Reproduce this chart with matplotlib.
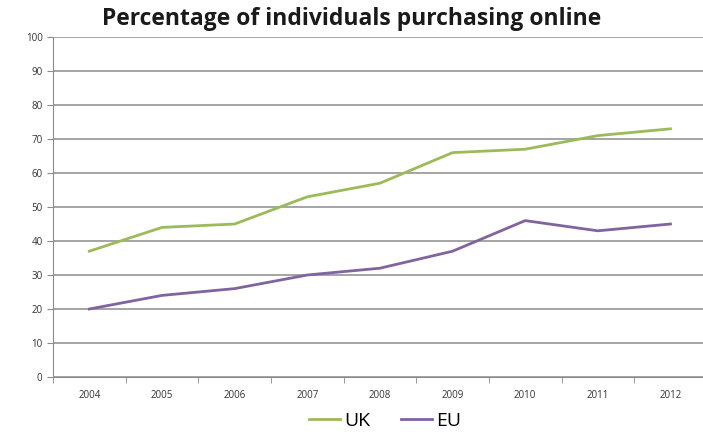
import numpy as np
import matplotlib.pyplot as plt

years = ['2004', '2005', '2006', '2007', '2008', '2009', '2010', '2011', '2012']
uk = [37, 44, 45, 53, 57, 66, 67, 71, 73]
eu = [20, 24, 26, 30, 32, 37, 46, 43, 45]

plt.rcParams['font.family'] = ['Open Sans', 'DejaVu Sans']

fig = plt.figure(figsize=(7.03, 4.32), dpi=100)
ax = fig.add_axes([0.0754, 0.1273, 0.93, 0.787])

x = np.arange(len(years))
ax.plot(x, uk, color='#9bbb59', linewidth=2, label='UK')
ax.plot(x, eu, color='#7f64a0', linewidth=2, label='EU')

ax.set_xlim(-0.5, len(years) - 0.5)
ax.set_ylim(0, 100)
ax.set_yticks(range(0, 101, 10))
ax.yaxis.grid(True, color='#8c8c8c', linewidth=1.1)
ax.set_axisbelow(True)

ax.set_xticks(x)
ax.set_xticklabels(years)
ax.set_xticks(np.arange(-0.5, len(years), 1), minor=True)
ax.tick_params(axis='x', which='major', length=0, labelsize=7, pad=9, colors='#333333')
ax.tick_params(axis='x', which='minor', length=4, color='#8c8c8c', direction='out')
ax.tick_params(axis='y', length=4, color='#8c8c8c', labelsize=7, colors='#333333')

for s in ['top', 'right']:
    ax.spines[s].set_visible(False)
ax.spines['left'].set_color('#8c8c8c')
ax.spines['bottom'].set_color('#8c8c8c')

fig.text(0.5, 0.955, 'Percentage of individuals purchasing online',
         ha='center', va='center', fontsize=16.5, fontweight='bold', color='#1a1a1a')

fig.legend(loc='center', bbox_to_anchor=(0.548, 0.025), ncol=2, frameon=False,
           fontsize=14, handlelength=1.6, handletextpad=0.2, columnspacing=1.6)

fig.savefig('out.png', dpi=100)
